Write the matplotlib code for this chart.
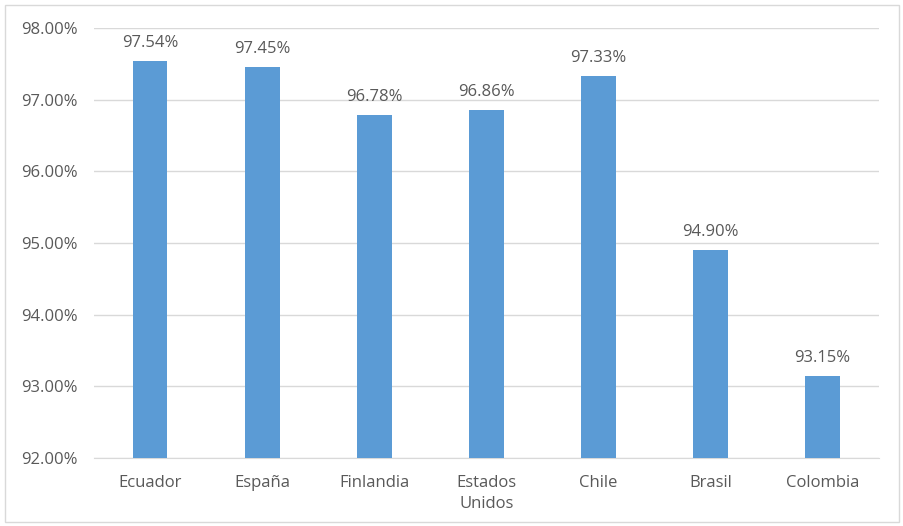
import matplotlib.pyplot as plt
from matplotlib.patches import Rectangle

# Data
paises = ['Ecuador', 'España', 'Finlandia', 'Estados\nUnidos', 'Chile', 'Brasil', 'Colombia']
valores = [97.54, 97.45, 96.78, 96.86, 97.33, 94.90, 93.15]

plt.rcParams['font.family'] = ['Open Sans', 'DejaVu Sans']
gris = '#595959'

fig = plt.figure(figsize=(9.04, 5.26), dpi=100)
ax = fig.add_axes([0.104, 0.129, 0.868, 0.818])

x = range(len(paises))
bars = ax.bar(x, valores, width=0.31, color='#5B9BD5', zorder=3)

for b, v in zip(bars, valores):
    ax.text(b.get_x() + b.get_width() / 2, v + 0.14, f'{v:.2f}%',
            ha='center', va='bottom', fontsize=12, color=gris)

ax.set_ylim(92, 98)
ax.set_xlim(-0.5, len(paises) - 0.5)
ax.set_yticks([92, 93, 94, 95, 96, 97, 98])
ax.set_yticklabels([f'{t:.2f}%' for t in ax.get_yticks()])
ax.set_xticks(list(x))
ax.set_xticklabels(paises, linespacing=1.45)
ax.tick_params(axis='both', length=0, labelsize=12, colors=gris)
ax.tick_params(axis='y', pad=12)
ax.tick_params(axis='x', pad=12)

ax.grid(axis='y', color='#D9D9D9', linewidth=1, zorder=0)
for s in ['top', 'right', 'left']:
    ax.spines[s].set_visible(False)
ax.spines['bottom'].set_color('#D9D9D9')

# outer border
fig.patches.append(Rectangle((0.005, 0.008), 0.989, 0.982, transform=fig.transFigure,
                             fill=False, edgecolor='#D9D9D9', linewidth=1))

fig.savefig('out.png', dpi=100)
